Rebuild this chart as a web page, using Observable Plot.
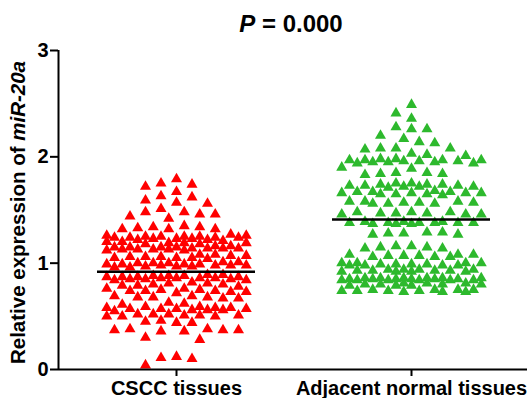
<!DOCTYPE html>
<html><head><meta charset="utf-8">
<script src="https://cdn.jsdelivr.net/npm/d3@7"></script>
<script src="https://cdn.jsdelivr.net/npm/@observablehq/plot@0.6"></script>
<style>body{margin:0;background:#fff} #chart{width:527px;height:398px}</style>
</head><body><div id="chart"></div>
<script>
// ---------- data ----------
const groups = ["CSCC tissues", "Adjacent normal tissues"];
const csccValues = [
  1.79, 1.75, 1.72, 1.74, 1.67, 1.62, 1.57, 1.56, 1.59, 1.63, 1.51, 1.48, 1.46, 1.44, 1.46, 1.48, 1.42, 1.35, 1.34, 1.33, 1.32, 1.32, 1.32, 1.34,
  1.26, 1.25, 1.24, 1.23, 1.25, 1.22, 1.24, 1.27, 1.23, 1.25, 1.24, 1.26, 1.22, 1.25, 1.23, 1.24,
  1.20, 1.19, 1.18, 1.20, 1.19, 1.18, 1.21, 1.19,
  1.15, 1.14, 1.13, 1.16, 1.14, 1.12, 1.15, 1.13, 1.14, 1.16, 1.12, 1.15, 1.13, 1.14, 1.15, 1.13,
  1.07, 1.06, 1.05, 1.08, 1.06, 1.04, 1.07, 1.05, 1.06, 1.08, 1.05,
  1.00, 0.99, 0.98, 0.97, 1.01, 0.98, 0.96, 0.99, 1.00, 0.97, 0.98, 0.99, 0.96, 1.01, 0.98, 0.97, 0.99, 1.00,
  0.88, 0.87, 0.86, 0.85, 0.89, 0.86, 0.84, 0.87, 0.88, 0.85, 0.86, 0.87, 0.84, 0.89, 0.86, 0.85, 0.87, 0.88,
  0.81, 0.80, 0.79, 0.82, 0.80, 0.78, 0.81, 0.79,
  0.75, 0.74, 0.73, 0.76, 0.74, 0.72, 0.75, 0.73, 0.74, 0.76,
  0.69, 0.68, 0.67, 0.69, 0.68, 0.67, 0.68,
  0.63, 0.62, 0.61,
  0.58, 0.57, 0.56, 0.59, 0.57, 0.55, 0.58, 0.56, 0.57, 0.59, 0.56, 0.58, 0.57,
  0.52, 0.51, 0.50, 0.52, 0.51, 0.50, 0.52, 0.51, 0.50,
  0.45, 0.44, 0.46, 0.44,
  0.38, 0.37, 0.36, 0.38, 0.37, 0.36, 0.37,
  0.30, 0.28,
  0.12, 0.11, 0.10,
  0.04
];
const adjacentValues = [
  2.49, 2.41, 2.36, 2.28, 2.26, 2.26, 2.20, 2.17, 2.14, 2.13, 2.08, 2.08, 2.07, 2.08, 2.03, 2.02, 2.01,
  1.98, 1.97, 1.96, 1.95, 1.97, 1.94, 1.96, 1.98, 1.95, 1.97, 1.96, 1.94, 1.97, 1.95,
  1.90, 1.89,
  1.85, 1.84, 1.83, 1.84, 1.85,
  1.75, 1.74, 1.73, 1.72, 1.74, 1.73, 1.71, 1.75, 1.72, 1.74, 1.73, 1.72,
  1.67, 1.66, 1.65, 1.67, 1.66, 1.64, 1.67, 1.65, 1.66, 1.68, 1.65, 1.66,
  1.58, 1.57, 1.56, 1.58, 1.57, 1.56, 1.58, 1.57, 1.56,
  1.48, 1.47, 1.46, 1.48, 1.47, 1.46, 1.48, 1.47, 1.46,
  1.39, 1.38, 1.38, 1.37, 1.39, 1.38, 1.37, 1.38, 1.39, 1.38, 1.37, 1.38,
  1.29, 1.28, 1.27, 1.29, 1.28, 1.27,
  1.16, 1.15, 1.14, 1.16, 1.15, 1.14,
  1.08, 1.07, 1.06, 1.08, 1.07, 1.06, 1.08, 1.07, 1.06,
  1.00, 0.99, 0.98, 1.00, 0.99, 0.98, 1.00, 0.99, 0.98, 1.00, 0.99, 0.98,
  0.94, 0.93, 0.92, 0.94, 0.93, 0.92, 0.94, 0.93, 0.92, 0.94, 0.93, 0.92,
  0.86, 0.85, 0.84, 0.86, 0.85, 0.84, 0.86, 0.85, 0.84, 0.86, 0.85, 0.84, 0.86, 0.85, 0.84, 0.86, 0.85, 0.84,
  0.81, 0.80, 0.79, 0.81, 0.80, 0.79, 0.81, 0.80, 0.79, 0.80,
  0.75, 0.74, 0.73, 0.75, 0.74, 0.73, 0.75, 0.74, 0.73, 0.75, 0.74
];
const meanValues = [0.92, 1.41];
const yTicks = [0, 1, 2, 3];
const titleItalic = "P";
const titleRest = " = 0.000";
const yLabelMain = "Relative expression of ";
const yLabelGene = "miR-20a";

// ---------- layout ----------
const W = 527, H = 398;
const mL = 58, mR = 0, mT = 50, mB = 29;
const firstCenterPx = 176, groupStepPx = 235;
const pxPerY = (H - mT - mB) / 3;
const colors = ["#ff0000", "#2db92d"];
const font = "'Liberation Sans', Arial, Helvetica, sans-serif";

// Prism-like column scatter: each point takes the free slot nearest the centre
function columnScatter(values, gi) {
  const s = 15.5, step = s / 2, dv = 10.5, maxJ = 9;
  const slots = [0];
  for (let j = 1; j <= maxJ; j++) slots.push(-j, j);
  const order = values.map((v, i) => i).sort((a, b) => values[b] - values[a]);
  const placed = [], out = [];
  for (const i of order) {
    const v = values[i];
    let best = 0, bestD = -1;
    for (const j of slots) {
      const ox = j * step;
      let mind = Infinity;
      for (const p of placed) {
        const dy = (p.v - v) * pxPerY;
        if (Math.abs(dy) >= dv) continue;
        const d = Math.hypot((p.ox - ox) / s, dy / dv);
        if (d < mind) mind = d;
      }
      if (mind >= 1) { best = j; bestD = mind; break; }
      if (mind > bestD) { bestD = mind; best = j; }
    }
    placed.push({v, ox: best * step});
    out.push({group: groups[gi], value: v, pos: gi + best * step / groupStepPx});
  }
  return out;
}
const csccPoints = columnScatter(csccValues, 0);
const adjacentPoints = columnScatter(adjacentValues, 1);
const meanRows = meanValues.map((m, i) => ({i, m}));
const halfLine = 79 / groupStepPx;
const xMin = (mL - firstCenterPx) / groupStepPx;
const xMax = (W - mR - firstCenterPx) / groupStepPx;

const plot = Plot.plot({
  width: W, height: H,
  marginLeft: mL, marginRight: mR, marginTop: mT, marginBottom: mB,
  x: {domain: [xMin, xMax]},
  y: {domain: [0, 3]},
  style: {fontFamily: font, fontSize: "20px", fontWeight: "bold", background: "#fff", color: "#000", overflow: "visible"},
  marks: [
    Plot.dot(csccPoints, {x: "pos", y: "value", symbol: "triangle", r: 4.1, fill: colors[0], stroke: "none"}),
    Plot.dot(adjacentPoints, {x: "pos", y: "value", symbol: "triangle", r: 4.1, fill: colors[1], stroke: "none"}),
    Plot.ruleY(meanRows, {y: "m", x1: d => d.i - halfLine, x2: d => d.i + halfLine, stroke: "#000", strokeWidth: 2.5}),
    Plot.ruleX([xMin], {y1: 0, y2: 3, stroke: "#000", strokeWidth: 2}),
    Plot.ruleY([0], {stroke: "#000", strokeWidth: 2}),
    Plot.axisY(yTicks, {tickSize: 8, tickPadding: 2, strokeWidth: 2, label: null, tickFormat: d => String(d)}),
    Plot.axisX([0, 1], {tickSize: 7, tickPadding: 4, strokeWidth: 2, label: null, tickFormat: i => groups[i]})
  ]
});
document.getElementById("chart").appendChild(plot);

const svg = d3.select(plot);
const title = svg.append("text")
  .attr("x", 291).attr("y", 32)
  .attr("text-anchor", "middle")
  .style("font-family", font).style("font-size", "24px").style("font-weight", "bold");
title.append("tspan").style("font-style", "italic").text(titleItalic);
title.append("tspan").text(titleRest);

const ylab = svg.append("text")
  .attr("transform", `translate(25,${(mT + H - mB) / 2 + 3}) rotate(-90)`)
  .attr("text-anchor", "middle")
  .style("font-family", font).style("font-size", "20.5px").style("font-weight", "bold");
ylab.append("tspan").text(yLabelMain);
ylab.append("tspan").style("font-style", "italic").text(yLabelGene);
</script>
</body></html>
